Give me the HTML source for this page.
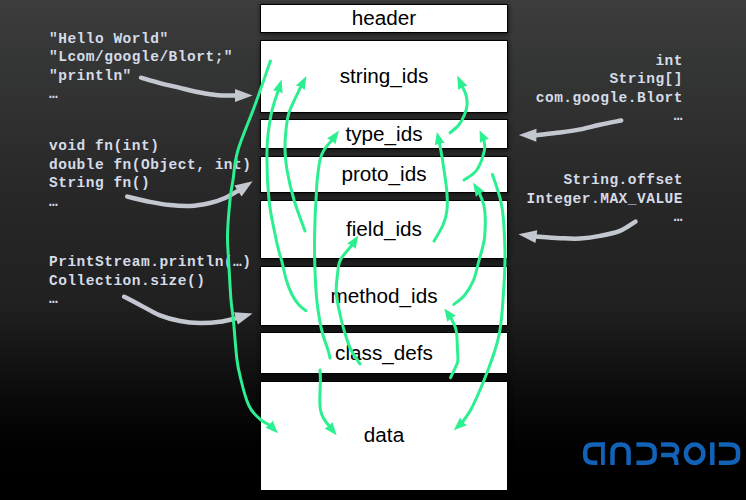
<!DOCTYPE html>
<html><head><meta charset="utf-8">
<style>
html,body{margin:0;padding:0;}
body{width:746px;height:500px;overflow:hidden;position:relative;
background:linear-gradient(to bottom,rgb(60,61,60) 0px,rgb(52,54,53) 62px,rgb(47,47,47) 125px,rgb(41,41,41) 180px,rgb(36,36,36) 245px,rgb(33,33,33) 300px,rgb(29,29,29) 320px,rgb(24,24,24) 340px,rgb(17,17,17) 370px,rgb(10,10,10) 398px,rgb(5,5,5) 427px,rgb(1,1,1) 448px,#000 470px);}
.box{position:absolute;left:260px;width:246px;background:#fff;border:1px solid #000;
box-shadow:1px 2px 4px rgba(0,0,0,0.4),0 0 4px rgba(0,0,0,0.3);}
.lbl{position:absolute;left:260.5px;width:246px;transform:scaleX(1.035);text-align:center;font-family:"Liberation Sans",sans-serif;font-size:20px;line-height:20px;color:#000;white-space:nowrap;}
.code{position:absolute;font-family:"Liberation Mono",monospace;font-weight:bold;font-size:14.5px;line-height:18.5px;letter-spacing:0.5px;color:#d5dbe7;white-space:pre;}
.r{text-align:right;}
svg{position:absolute;left:0;top:0;}
</style></head><body>
<div class="box" style="top:4px;height:27px"></div>
<div class="box" style="top:40px;height:71px"></div>
<div class="box" style="top:119px;height:28px"></div>
<div class="box" style="top:156px;height:35px"></div>
<div class="box" style="top:200px;height:57px"></div>
<div class="box" style="top:266px;height:58px"></div>
<div class="box" style="top:332px;height:40px"></div>
<div class="box" style="top:381px;height:108px"></div>

<div class="lbl" style="top:8px">header</div>
<div class="lbl" style="top:66px">string_ids</div>
<div class="lbl" style="top:124px">type_ids</div>
<div class="lbl" style="top:164px">proto_ids</div>
<div class="lbl" style="top:219px">field_ids</div>
<div class="lbl" style="top:286px">method_ids</div>
<div class="lbl" style="top:343px">class_defs</div>
<div class="lbl" style="top:425px">data</div>

<div class="code" style="left:49px;top:29.5px">"Hello World"
"Lcom/google/Blort;"
"println"
…</div>
<div class="code" style="left:49px;top:137px">void fn(int)
double fn(Object, int)
String fn()
…</div>
<div class="code" style="left:49px;top:253px">PrintStream.println(…)
Collection.size()
…</div>
<div class="code r" style="right:63px;top:51.5px">int
String[]
com.google.Blort
…</div>
<div class="code r" style="right:63px;top:171px">String.offset
Integer.MAX_VALUE
…</div>

<svg width="746" height="500" viewBox="0 0 746 500">
<path d="M141.0,77.7 C144.2,78.6 153.5,81.4 160.0,83.1 C166.5,84.8 173.3,86.3 180.0,87.9 C186.7,89.5 193.7,91.3 200.0,92.5 C206.3,93.7 212.0,94.7 218.0,95.2 C224.0,95.7 233.0,95.4 236.0,95.4" fill="none" stroke="#c3c7cf" stroke-width="4.5" stroke-linecap="round" stroke-linejoin="round"/><path d="M252.6,95.4 L235.0,101.9 L235.0,95.4 L235.0,88.9 Z" fill="#c3c7cf"/>
<path d="M127.2,196.6 C131.0,197.5 142.9,200.5 150.0,201.9 C157.1,203.3 163.3,204.4 170.0,205.1 C176.7,205.8 183.3,206.3 190.0,206.0 C196.7,205.7 204.2,204.3 210.0,203.0 C215.8,201.7 220.2,200.1 225.0,198.0 C229.8,195.9 236.5,191.7 238.8,190.4" fill="none" stroke="#c3c7cf" stroke-width="4.5" stroke-linecap="round" stroke-linejoin="round"/><path d="M252.6,181.2 L241.6,196.4 L238.0,191.0 L234.4,185.6 Z" fill="#c3c7cf"/>
<path d="M124.1,296.8 C126.8,298.1 134.0,301.8 140.0,304.9 C146.0,308.0 153.3,312.6 160.0,315.3 C166.7,318.0 173.3,319.7 180.0,321.0 C186.7,322.3 193.3,322.9 200.0,323.0 C206.7,323.1 213.8,322.6 220.0,321.8 C226.2,321.0 234.1,318.7 237.0,318.1" fill="none" stroke="#c3c7cf" stroke-width="4.5" stroke-linecap="round" stroke-linejoin="round"/><path d="M252.6,313.4 L237.9,324.6 L236.0,318.4 L234.1,312.2 Z" fill="#c3c7cf"/>
<path d="M621.2,120.5 C617.7,121.2 606.9,123.2 600.0,124.7 C593.1,126.2 586.7,128.1 580.0,129.4 C573.3,130.7 567.4,131.5 560.0,132.5 C552.6,133.5 539.5,134.7 535.4,135.2" fill="none" stroke="#c3c7cf" stroke-width="4.5" stroke-linecap="round" stroke-linejoin="round"/><path d="M518.8,135.0 L536.5,128.7 L536.4,135.2 L536.3,141.7 Z" fill="#c3c7cf"/>
<path d="M635.5,221.6 C632.9,223.1 625.9,228.4 620.0,230.8 C614.1,233.2 606.7,234.6 600.0,235.9 C593.3,237.2 586.7,238.1 580.0,238.5 C573.3,238.9 567.4,238.5 560.0,238.2 C552.6,237.9 539.5,236.8 535.4,236.5" fill="none" stroke="#c3c7cf" stroke-width="4.5" stroke-linecap="round" stroke-linejoin="round"/><path d="M518.4,234.2 L537.3,230.2 L536.4,236.6 L535.5,243.0 Z" fill="#c3c7cf"/>
<path d="M270.4,61.0 C267.8,68.3 260.4,90.2 255.0,105.0 C249.6,119.8 241.7,137.5 238.0,150.0 C234.3,162.5 234.3,171.7 233.0,180.0 C231.7,188.3 230.9,190.8 230.0,200.0 C229.1,209.2 227.7,225.0 227.5,235.0 C227.3,245.0 228.0,249.2 228.6,260.0 C229.2,270.8 230.2,290.0 231.0,300.0 C231.8,310.0 232.4,310.0 233.4,320.0 C234.4,330.0 235.7,350.0 237.0,360.0 C238.3,370.0 239.4,373.3 241.0,380.0 C242.6,386.7 244.9,395.0 246.6,400.0 C248.3,405.0 249.0,406.7 251.4,410.0 C253.8,413.3 257.8,417.4 261.0,420.0 C264.2,422.6 268.8,424.5 270.4,425.5" fill="none" stroke="#2cf090" stroke-width="3" stroke-linecap="round" stroke-linejoin="round"/><path d="M277.8,433.3 L265.3,427.5 L269.7,424.7 L272.7,420.5 Z" fill="#2cf090"/>
<path d="M305.8,310.7 C304.7,309.8 301.3,307.6 299.0,305.0 C296.7,302.4 294.3,299.2 292.2,295.0 C290.1,290.8 288.0,285.5 286.3,280.0 C284.6,274.5 283.3,267.0 282.0,262.0 C280.7,257.0 279.7,254.5 278.6,250.0 C277.5,245.5 276.8,243.3 275.2,235.0 C273.6,226.7 270.4,214.2 269.0,200.0 C267.6,185.8 266.7,164.2 267.0,150.0 C267.3,135.8 269.1,125.0 271.0,115.0 C272.9,105.0 277.2,94.2 278.4,90.0" fill="none" stroke="#2cf090" stroke-width="3" stroke-linecap="round" stroke-linejoin="round"/><path d="M281.6,79.6 L282.6,93.4 L278.1,90.9 L273.0,90.4 Z" fill="#2cf090"/>
<path d="M305.0,231.0 C303.2,225.8 297.0,210.2 294.0,200.0 C291.0,189.8 288.5,178.3 287.0,170.0 C285.5,161.7 285.2,156.7 285.0,150.0 C284.8,143.3 285.3,136.3 286.0,130.0 C286.7,123.7 286.7,119.3 289.2,112.0 C291.7,104.7 299.2,90.3 301.2,85.9" fill="none" stroke="#2cf090" stroke-width="3" stroke-linecap="round" stroke-linejoin="round"/><path d="M306.4,76.0 L304.7,90.0 L300.8,86.8 L295.9,85.4 Z" fill="#2cf090"/>
<path d="M330.0,358.0 C329.7,356.7 329.2,353.8 328.0,350.0 C326.8,346.2 324.4,340.0 323.0,335.0 C321.6,330.0 320.6,325.8 319.6,320.0 C318.6,314.2 317.5,306.7 316.8,300.0 C316.1,293.3 315.8,288.3 315.4,280.0 C315.0,271.7 314.6,260.0 314.5,250.0 C314.4,240.0 314.8,228.3 315.0,220.0 C315.2,211.7 315.6,206.7 316.0,200.0 C316.4,193.3 316.5,186.7 317.2,180.0 C317.9,173.3 318.9,165.0 320.0,160.0 C321.1,155.0 321.9,153.4 324.0,150.0 C326.1,146.6 331.0,141.5 332.4,139.8" fill="none" stroke="#2cf090" stroke-width="3" stroke-linecap="round" stroke-linejoin="round"/><path d="M339.0,130.4 L335.3,144.3 L331.8,140.6 L327.1,138.5 Z" fill="#2cf090"/>
<path d="M360.0,364.0 C358.5,361.7 353.4,354.8 351.0,350.0 C348.6,345.2 347.1,340.0 345.5,335.0 C343.9,330.0 342.7,325.8 341.3,320.0 C339.9,314.2 338.0,305.0 337.1,300.0 C336.2,295.0 336.1,294.2 336.2,290.0 C336.2,285.8 336.7,280.0 337.4,275.0 C338.1,270.0 337.9,265.1 340.4,260.0 C342.9,254.9 350.5,247.1 352.6,244.5" fill="none" stroke="#2cf090" stroke-width="3" stroke-linecap="round" stroke-linejoin="round"/><path d="M358.2,235.4 L355.8,248.9 L352.0,245.4 L347.2,243.5 Z" fill="#2cf090"/>
<path d="M320.0,370.0 C320.1,371.7 320.4,375.0 320.4,380.0 C320.4,385.0 319.8,395.0 319.8,400.0 C319.8,405.0 319.9,407.0 320.5,410.0 C321.1,413.0 321.9,415.2 323.4,418.0 C324.9,420.8 328.7,425.4 329.8,426.8" fill="none" stroke="#2cf090" stroke-width="3" stroke-linecap="round" stroke-linejoin="round"/><path d="M336.6,435.2 L324.6,428.5 L329.1,426.1 L332.4,422.1 Z" fill="#2cf090"/>
<path d="M450.0,132.8 C451.5,131.5 456.4,128.0 458.8,125.0 C461.2,122.0 463.0,118.3 464.4,115.0 C465.8,111.7 466.8,108.3 467.1,105.0 C467.4,101.7 466.9,98.2 466.0,95.0 C465.1,91.8 462.6,87.5 462.0,86.0" fill="none" stroke="#2cf090" stroke-width="3" stroke-linecap="round" stroke-linejoin="round"/><path d="M457.2,75.4 L467.4,85.7 L462.4,86.9 L458.2,89.9 Z" fill="#2cf090"/>
<path d="M434.0,241.0 C435.5,238.3 440.8,230.2 443.0,225.0 C445.2,219.8 446.4,215.8 447.0,210.0 C447.6,204.2 447.4,198.3 446.7,190.0 C445.9,181.7 443.7,168.0 442.5,160.0 C441.3,152.0 439.8,145.2 439.3,142.2" fill="none" stroke="#2cf090" stroke-width="3" stroke-linecap="round" stroke-linejoin="round"/><path d="M436.9,131.9 L444.6,143.1 L439.5,143.2 L434.8,145.3 Z" fill="#2cf090"/>
<path d="M464.0,180.0 C466.1,178.3 473.4,175.0 476.8,170.0 C480.2,165.0 483.4,155.1 484.5,150.0 C485.6,144.9 483.8,141.0 483.7,139.2" fill="none" stroke="#2cf090" stroke-width="3" stroke-linecap="round" stroke-linejoin="round"/><path d="M479.6,130.5 L489.0,138.9 L484.1,140.1 L480.0,143.1 Z" fill="#2cf090"/>
<path d="M453.8,304.5 C455.6,302.9 461.5,299.1 464.8,295.0 C468.1,290.9 471.2,285.8 473.6,280.0 C476.0,274.2 477.3,266.7 479.1,260.0 C480.9,253.3 483.2,246.7 484.2,240.0 C485.2,233.3 485.3,225.7 485.3,220.0 C485.3,214.3 485.0,210.6 484.0,206.0 C483.0,201.4 480.0,194.7 479.2,192.5" fill="none" stroke="#2cf090" stroke-width="3" stroke-linecap="round" stroke-linejoin="round"/><path d="M473.0,182.5 L484.5,191.5 L479.7,193.3 L475.9,196.9 Z" fill="#2cf090"/>
<path d="M450.5,377.6 C451.5,375.5 455.3,367.9 456.5,365.0 C457.7,362.1 457.7,362.5 457.9,360.0 C458.1,357.5 457.8,355.0 457.5,350.0 C457.2,345.0 457.3,335.5 456.1,330.0 C454.9,324.5 451.4,319.3 450.5,317.2" fill="none" stroke="#2cf090" stroke-width="3" stroke-linecap="round" stroke-linejoin="round"/><path d="M444.4,308.4 L455.9,315.8 L451.0,318.0 L447.3,321.8 Z" fill="#2cf090"/>
<path d="M492.5,174.5 C493.8,178.8 498.7,192.4 500.5,200.0 C502.3,207.6 502.8,210.0 503.5,220.0 C504.2,230.0 505.1,246.7 505.0,260.0 C504.9,273.3 503.8,288.3 503.0,300.0 C502.2,311.7 501.3,321.7 500.0,330.0 C498.7,338.3 497.0,343.3 495.0,350.0 C493.0,356.7 490.5,363.3 488.0,370.0 C485.5,376.7 482.9,383.3 480.0,390.0 C477.1,396.7 473.6,404.5 470.6,410.0 C467.6,415.5 463.4,420.6 461.9,422.8" fill="none" stroke="#2cf090" stroke-width="3" stroke-linecap="round" stroke-linejoin="round"/><path d="M453.8,430.2 L460.0,417.6 L462.7,422.1 L466.8,425.2 Z" fill="#2cf090"/>
<g fill="none" stroke="#1262b8" stroke-width="4.5" stroke-linecap="butt">
<path d="M597.3,462.8 H593.6 C588,462.8 585.2,460.3 585.2,455.8 V451.5 C585.2,447 588,444.5 593.6,444.5 H604.8"/>
<path d="M602.9,442.4 V465" stroke-width="3.8"/>
<path d="M612.5,465 V452 C612.5,446.5 615.5,444.5 620.55,444.5 C625.6,444.5 628.6,446.5 628.6,452 V465"/>
<path d="M636.4,444.5 H645.5 C651.3,444.5 654.6,447 654.6,451.5 V455.8 C654.6,460.3 651.3,462.8 645.5,462.8 H636.4"/>
<path d="M661.1,444.4 H671.85 A5.35,5.35 0 0 1 671.85,455.1 H661.1 M671.85,455.1 Q676.5,456 676.5,465"/>
<ellipse cx="694.65" cy="453.65" rx="8.7" ry="9.2"/>
<path d="M712.3,442.4 V465" stroke-width="4.5"/>
<path d="M718.8,444.5 H728.9 C734.7,444.5 738,447 738,451.5 V455.8 C738,460.3 734.7,462.8 728.9,462.8 H718.8"/>
</g>
</svg>
</body></html>
